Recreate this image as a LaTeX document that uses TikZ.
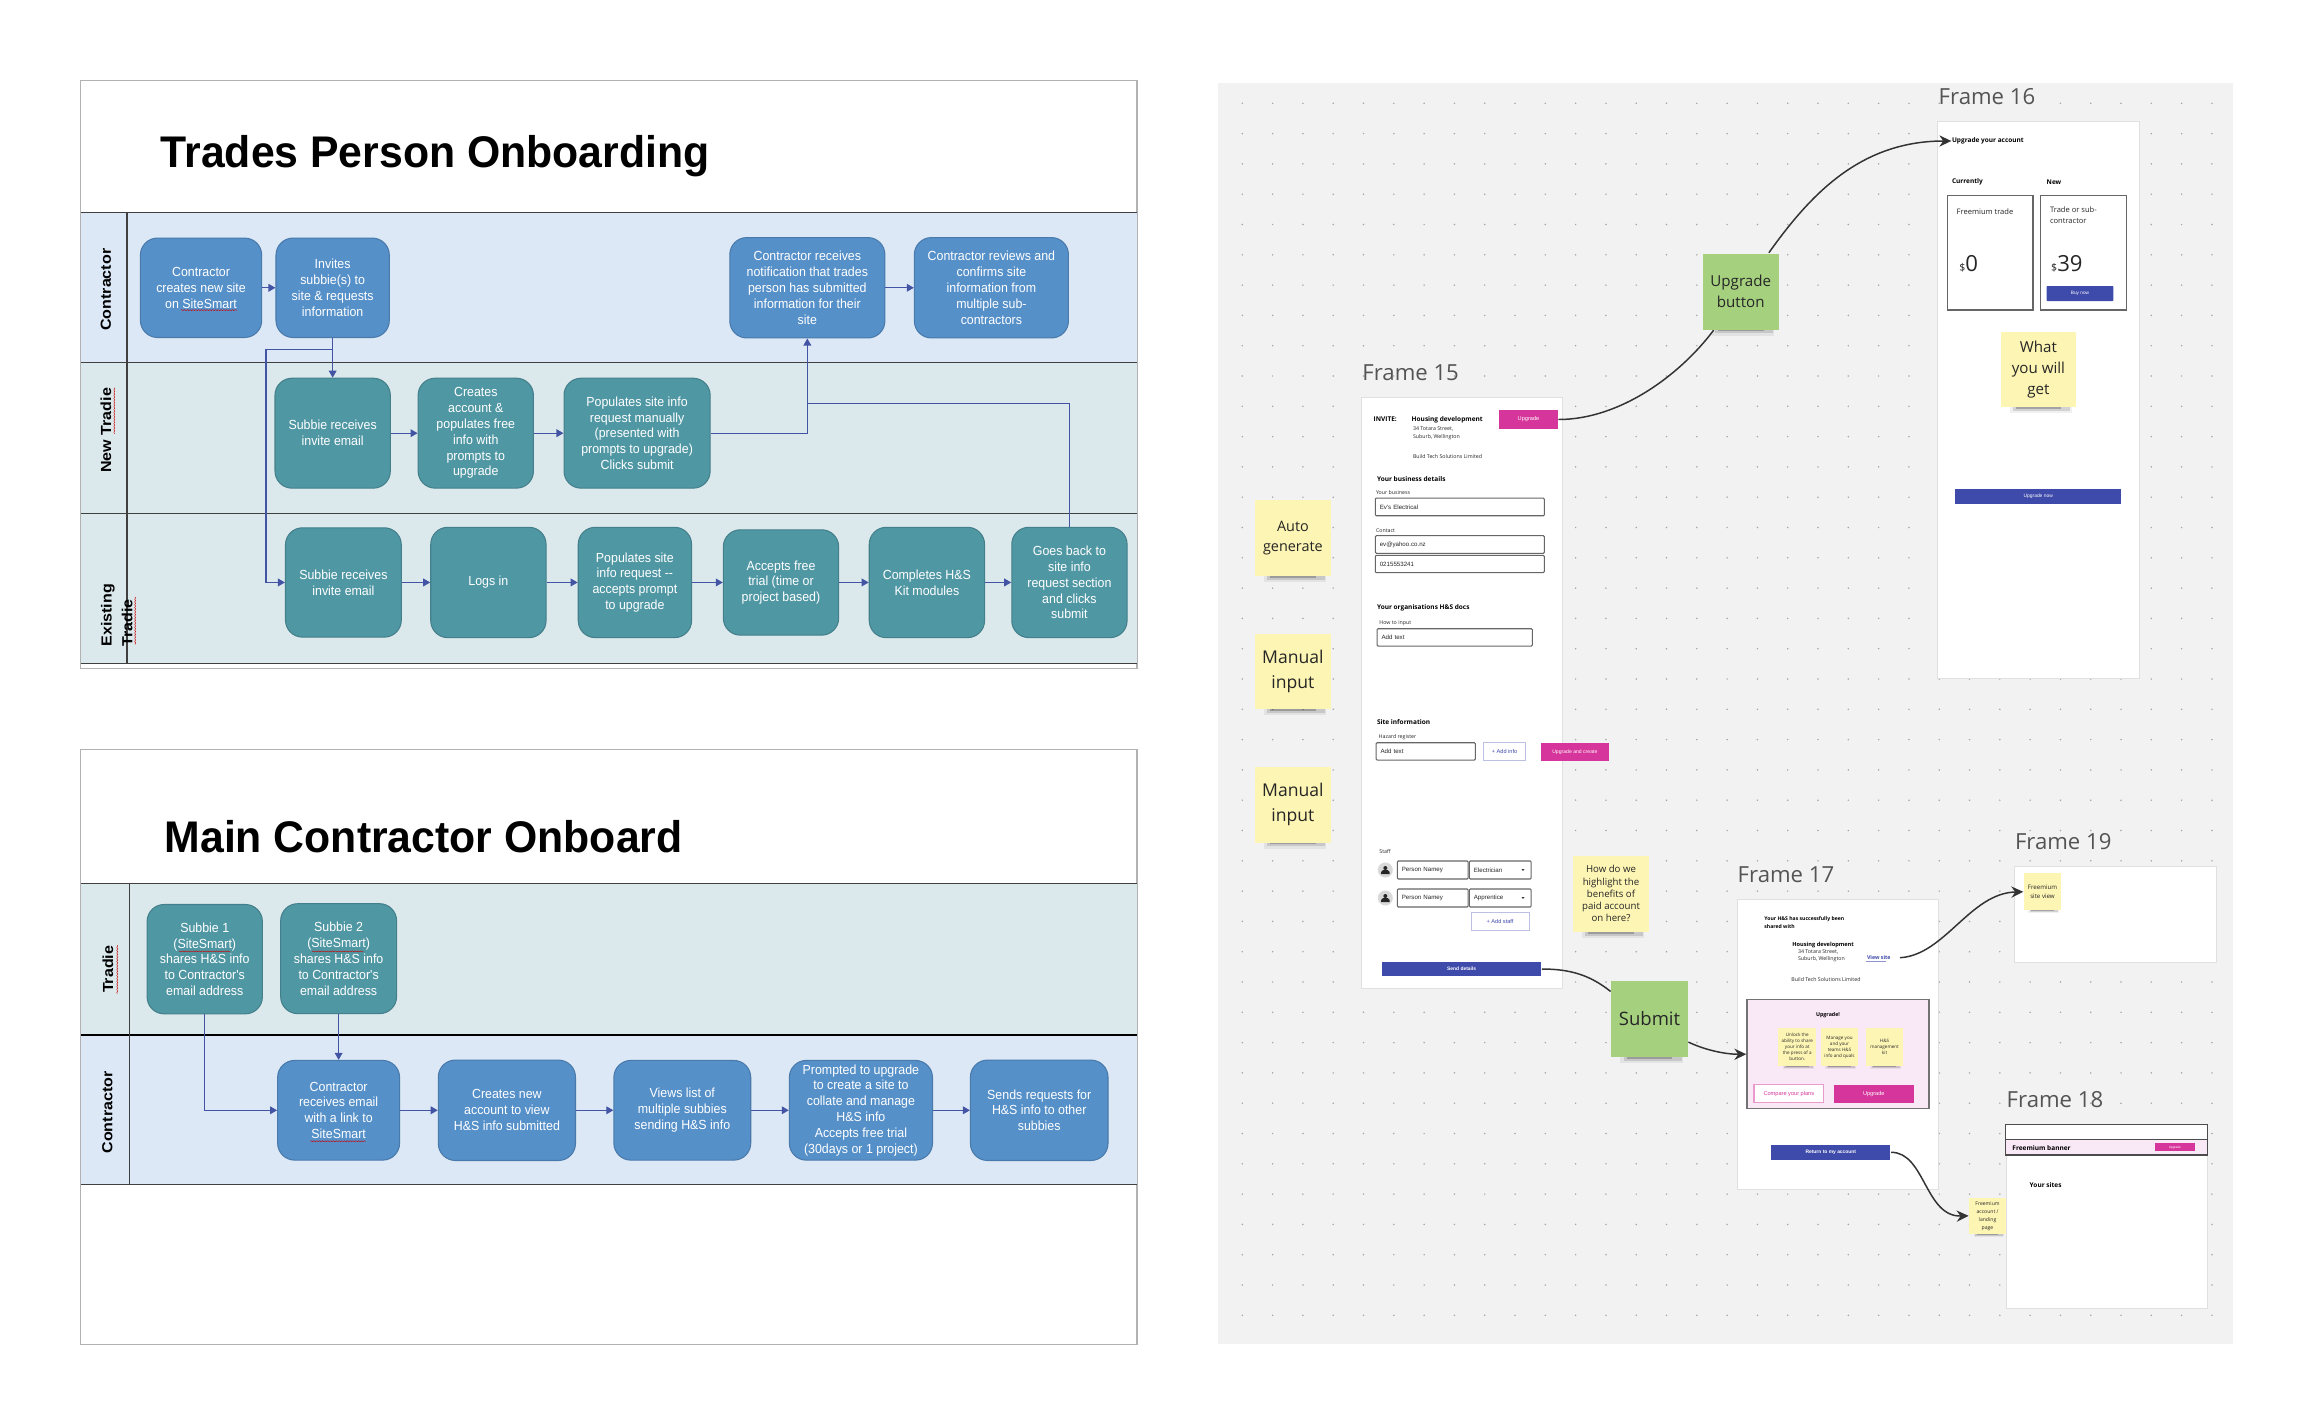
\documentclass[tikz,border=0pt]{standalone}
\usepackage{fontspec}
\setmainfont{Open Sans}
\newfontfamily\chartfont[FakeStretch=0.94]{Liberation Sans}
\newfontfamily\titlefont[FakeStretch=0.965]{Liberation Sans}
\newfontfamily\lanefont[FakeStretch=1.1]{Liberation Sans}
\newfontfamily\uifont{Liberation Sans}
\usepackage{xcolor}
\usepackage{tikz}
\usetikzlibrary{arrows.meta,decorations.pathmorphing}
\newcommand{\Px}{0.01cm}
\newcommand{\NoteShadow}[3]{%
  \fill[black, opacity=.06] (#1-.38*#3,#2+.45*#3) rectangle (#1+.44*#3,#2+.58*#3);
  \fill[black, opacity=.12] (#1-.34*#3,#2+.45*#3) rectangle (#1+.42*#3,#2+.55*#3);
  \fill[black, opacity=.22] (#1-.30*#3,#2+.45*#3) rectangle (#1+.30*#3,#2+.525*#3);
}
\definecolor{laneblue}{HTML}{DCE8F5}
\definecolor{laneteal}{HTML}{DBE9EC}
\definecolor{boxblue}{HTML}{5690C9}
\definecolor{boxteal}{HTML}{5097A4}
\definecolor{flowblue}{HTML}{4354A5}
\definecolor{panelgray}{HTML}{F2F2F2}
\definecolor{noteyellow}{HTML}{FDF5B4}
\definecolor{notegreen}{HTML}{A5D17F}
\definecolor{btnpink}{HTML}{D6359B}
\definecolor{btnblue}{HTML}{3F4BAB}
\definecolor{softpink}{HTML}{F9E8F5}
\tikzset{
  stepbox/.style={rounded corners=0.17cm, inner sep=0, text=white, align=center,
    font=\chartfont\fontsize{3.75}{4.5}\selectfont},
  bluebox/.style={stepbox, fill=boxblue, draw=boxblue!85!black, line width=.3pt},
  tealbox/.style={stepbox, fill=boxteal, draw=boxteal!85!black, line width=.3pt},
  flow/.style={draw=flowblue, line width=.32pt, -{Triangle[length=2pt,width=2.2pt]}},
  flowline/.style={draw=flowblue, line width=.32pt},
  lanelabel/.style={rotate=90, inner sep=0, align=left,
    font=\lanefont\bfseries\fontsize{4.15}{5.9}\selectfont},
  charttitle/.style={anchor=base west, inner sep=0,
    font=\titlefont\bfseries\fontsize{12.6}{14}\selectfont},
  squiggle/.style={draw=red!80!black, line width=.12pt, decorate,
    decoration={snake,amplitude=.15pt,segment length=.8pt}},
  frametitle/.style={anchor=base west, inner sep=0, text=black!67,
    font=\fontsize{6.3}{7}\selectfont},
  boardframe/.style={draw=black!12, fill=white, line width=.3pt},
  note/.style={inner sep=0, align=center, text=black!85},
  txt/.style={anchor=west, inner sep=0, text=black!85, font=\fontsize{1.5}{2.1}\selectfont},
  txtbold/.style={txt, text=black, font=\bfseries\fontsize{1.85}{2.4}\selectfont},
  inputbox/.style={draw=black!60, fill=white, line width=.3pt, rounded corners=.3pt, inner ysep=0,
    inner xsep=4.5*\Px, align=left, text=black!85, font=\uifont\fontsize{1.75}{2}\selectfont},
  btn/.style={inner sep=0, text=white, font=\uifont\fontsize{1.6}{2}\selectfont},
  btnline/.style={btn, fill=white, draw=btnblue!35, line width=.3pt, text=btnblue},
  link/.style={draw=black!80, line width=.42pt},
  linkarrow/.style={link, -{Stealth[length=3.4pt,width=3.2pt]}},
}
\begin{document}
\begin{tikzpicture}[x=\Px,y=-\Px]
\useasboundingbox (0,0) rectangle (2313,1424);
\fill[white] (0,0) rectangle (2313,1424);

\begin{scope}[x=0.009939cm,y=-0.009932cm,shift={(0,0.54)}]
% first chart: lanes
\draw[black!30, line width=.3pt] (81,80) rectangle (1144,672);
\fill[laneblue] (81,213) rectangle (1144,364.5);
\fill[laneteal] (81,364.5) rectangle (1144,667);
\foreach \y in {213,364.5,516,667}
\draw[black!75, line width=.3pt] (81,\y) -- (1144,\y);
\draw[black!75, line width=.3pt] (127.8,213) -- (127.8,667);
\node[charttitle] (titleTrades) at (161,168) {Trades Person Onboarding};
\node[lanelabel] (laneContractorA) at (106.6,291) {Contractor};
\node[lanelabel] (laneNew) at (106.6,432.4) {New Tradie};
\node[lanelabel] (laneExisting) at (117.5,618.5) {Existing\\Tradie};

% first chart: boxes
\foreach \name/\x/\y/\w/\h/\descr in {
  c1/202.3/289/122/100/{Contractor\\creates new site\\on SiteSmart},
  c2/334.7/289/114/100/{Invites\\subbie(s) to\\site \& requests\\information},
  c3/812.3/289/156/101/{Contractor receives\\notification that trades\\person has submitted\\information for their\\site},
  c4/997.5/289/155/101/{Contractor reviews and\\confirms site\\information from\\multiple sub-\\contractors}}
\node[bluebox, minimum width=.994*\w*\Px, minimum height=.994*\h*\Px] (\name) at (\x,\y) {\descr};
\foreach \name/\x/\y/\w/\h/\descr in {
  n1/334.7/435.3/116/110.6/{Subbie receives\\invite email},
  n2/478.7/435.3/116/110.6/{Creates\\account \&\\populates free\\info with\\prompts to\\upgrade},
  n3/641/435.3/147/110.6/{Populates site info\\request manually\\(presented with\\prompts to upgrade)\\Clicks submit},
  e1/345.5/585.5/116.5/110/{Subbie receives\\invite email},
  e2/491.4/585.5/116/111/{Logs in},
  e3/638.8/585.5/114/111/{Populates site\\info request --\\accepts prompt\\to upgrade},
  e4/785.8/585.5/116/106/{Accepts free\\trial (time or\\project based)},
  e5/932.6/585.5/116/111/{Completes H\&S\\Kit modules},
  e6/1076/585.5/116/111/{Goes back to\\site info\\request section\\and clicks\\submit}}
\node[tealbox, minimum width=.994*\w*\Px, minimum height=.994*\h*\Px] (\name) at (\x,\y) {\descr};

% first chart: connectors
\coordinate (branch) at (267.6,350.7);
\coordinate (join) at (812.3,405.7);
\foreach \a/\b in {c1/c2,c3/c4,n1/n2,n2/n3,e1/e2,e2/e3,e3/e4,e4/e5,e5/e6}
\draw[flow] (\a.east) -- (\b.west);
\draw[flow] (c2.south) -- (n1.north);
\draw[flowline] (c2.south) |- (branch);
\draw[flow] (branch) |- (e1.west);
\draw[flow] (n3.east) -| (c3.south);
\draw[flowline] (e6.north) |- (join);

% spelling marks
\foreach \xa/\ya/\xb/\yb in {182/311.5/238.6/311.5, 115/389.6/115/436, 136/600/136/648}
\draw[squiggle] (\xa,\ya) -- (\xb,\yb);
\end{scope}

\begin{scope}[x=0.009939cm,y=-0.00995cm,shift={(0,3.75)}]
% second chart: lanes
\draw[black!30, line width=.3pt] (81,749.5) rectangle (1144,1347);
\fill[laneteal] (81,884) rectangle (1144,1035.7);
\fill[laneblue] (81,1035.7) rectangle (1144,1186.5);
\draw[black!75, line width=.3pt] (81,884) -- (1144,884);
\draw[black, line width=.5pt] (81,1035.7) -- (1144,1035.7);
\draw[black!75, line width=.3pt] (81,1186.5) -- (1144,1186.5);
\draw[black!75, line width=.3pt] (130,884) -- (130,1186.5);
\node[charttitle] (titleMain) at (165,852.6) {Main Contractor Onboard};
\node[lanelabel] (laneTradie) at (108.5,970) {Tradie};
\node[lanelabel] (laneContractorB) at (108,1113.7) {Contractor};

% second chart: boxes
\foreach \name/\x/\y/\w/\h/\descr in {
  t1/206/959.8/116/110/{Subbie 1\\(SiteSmart)\\shares H\&S info\\to Contractor's\\email address},
  t2/340.7/959.3/116.6/110.6/{Subbie 2\\(SiteSmart)\\shares H\&S info\\to Contractor's\\email address}}
\node[tealbox, minimum width=.994*\w*\Px, minimum height=.994*\h*\Px] (\name) at (\x,\y) {\descr};
\foreach \name/\x/\y/\w/\h/\descr in {
  b1/340.7/1111.6/122.7/100.3/{Contractor\\receives email\\with a link to\\SiteSmart},
  b2/510/1111.6/138/101/{Creates new\\account to view\\H\&S info submitted},
  b3/686.5/1111.6/137.7/100.3/{Views list of\\multiple subbies\\sending H\&S info},
  b4/866.2/1111.6/144/100.3/{Prompted to upgrade\\to create a site to\\collate and manage\\H\&S info\\Accepts free trial\\(30days or 1 project)},
  b5/1045.6/1111.6/138.4/101/{Sends requests for\\H\&S info to other\\subbies}}
\node[bluebox, minimum width=.994*\w*\Px, minimum height=.994*\h*\Px] (\name) at (\x,\y) {\descr};

% second chart: connectors
\foreach \a/\b in {b1/b2,b2/b3,b3/b4,b4/b5}
\draw[flow] (\a.east) -- (\b.west);
\draw[flow] (t1.south) |- (b1.west);
\draw[flow] (t2.south) -- (b1.north);

% spelling marks
\foreach \xa/\ya/\xb/\yb in {180/952/231.6/952, 314/952/365.7/952, 312/1142.7/368/1142.7, 118/945.7/118/994.7}
\draw[squiggle] (\xa,\ya) -- (\xb,\yb);
\end{scope}

% board background and dots
\fill[panelgray] (1218,82.7) rectangle (2233,1344);
\foreach \i in {0,...,32}
\foreach \j in {0,...,40}
\fill[black!35] (1242.3+\i*30.3,103.3+\j*30.3) circle (.85);

% frames
\foreach \name/\xa/\ya/\w/\h in {
  frameA/1360.7/397.3/201.6/591,
  frameB/1937/120.7/202/557,
  frameC/1736.7/898.7/201.6/290.6,
  frameD/2014/866/201.7/96.3,
  frameE/2005.7/1124/201.6/183.7}
\node[boardframe, anchor=north west, inner sep=0, minimum width=\w*\Px, minimum height=\h*\Px] (\name) at (\xa,\ya) {};
\foreach \name/\x/\y/\descr in {
  ttlFrameA/1361.7/380.7/{Frame 15},ttlFrameB/1938/104/{Frame 16},ttlFrameC/1737/882.7/{Frame 17},
  ttlFrameD/2014.3/849.3/{Frame 19},ttlFrameE/2006/1107.3/{Frame 18}}
\node[frametitle] (\name) at (\x,\y) {\descr};

% frame 15
\foreach \name/\x/\y/\descr in {
  ttlWho/1373/419.7/{INVITE:},ttlHousing/1411/419.7/{Housing development},
  ttlBusiness/1376.3/478.7/{Your business details},ttlDocs/1376.3/607.7/{Your organisations H\&S docs},
  ttlSite/1376.3/722/{Site information}}
\node[txtbold] (\name) at (\x,\y) {\descr};
\foreach \name/\x/\y/\descr in {
  adrA/1412.3/429.3/{34 Totara Street,},adrB/1412.3/436.7/{Suburb, Wellington},
  adrC/1412.3/456.7/{Build Tech Solutions Limited},lblBusiness/1375.3/492.7/{Your business},
  lblContact/1375.3/530.3/{Contact},lblInput/1378.7/623.3/{How to input},
  lblHazard/1378/737.3/{Hazard register},lblStaff/1378.7/851.7/{Staff}}
\node[txt] (\name) at (\x,\y) {\descr};
\foreach \name/\x/\y/\w/\h/\descr in {
  fldBusiness/1459.8/506.9/169/17.7/{Ev's Electrical},
  fldMail/1459.8/544.5/169/17.6/{ev@yahoo.co.nz},
  fldPhone/1459.8/564/169/17.4/{0215553241},
  fldDocs/1454.7/637.4/155.3/17.3/{Add text},
  fldHazard/1425.7/751.4/99.3/17.3/{Add text},
  fldNameA/1432.7/870/70.7/18/{Person Namey},
  fldRoleA/1500.2/870/61.7/18/{Electrician},
  fldNameB/1432.7/898/70.7/18/{Person Namey},
  fldRoleB/1500.2/898/61.7/18/{Apprentice}}
\node[inputbox, text width=(\w-9)*\Px, minimum height=\h*\Px] (\name) at (\x,\y) {\descr};
\foreach \y in {870,898}{
\fill[black!80] (1521.5,\y-1) -- (1524.5,\y-1) -- (1523,\y+1) -- cycle;
\node[circle, fill=black!15, inner sep=0, minimum size=15*\Px] (avatar\y) at (1385.3,\y) {};
\fill[black!85] (1385.3,\y-2) circle (2);
\fill[black!85] (1381,\y+4) -- (1381,\y+2) -- (1383,\y) -- (1387.6,\y) -- (1389.6,\y+2) -- (1389.6,\y+4) -- cycle;
}
\node[btn, fill=btnpink, minimum width=58.4*\Px, minimum height=18.4*\Px] (btnInvite) at (1528.5,419.5) {Upgrade};
\node[btn, fill=btnpink, minimum width=68.3*\Px, minimum height=17.7*\Px, font=\uifont\fontsize{1.45}{2}\selectfont] (btnCreate) at (1574.8,752.2) {Upgrade and create};
\node[btnline, minimum width=42.4*\Px, minimum height=17.3*\Px] (btnInfo) at (1504.5,751.4) {+ Add info};
\node[btnline, minimum width=58*\Px, minimum height=17.6*\Px] (btnStaff) at (1500,921.5) {+ Add staff};
\node[btn, fill=btnblue, minimum width=159.3*\Px, minimum height=14.6*\Px, font=\uifont\bfseries\fontsize{1.4}{2}\selectfont] (btnSend) at (1461.6,969) {Send details};

% frame 16
\node[txtbold] (ttlUpgrade) at (1951.3,141) {Upgrade your account};
\node[txtbold] (ttlCurrent) at (1951.3,182.3) {Currently};
\node[txtbold] (ttlNew) at (2046,182.3) {New};
\foreach \name/\x in {cardOld/1990.1,cardNew/2083.5}
\node[draw=black!60, line width=.4pt, fill=white, inner sep=0, minimum width=85.7*\Px, minimum height=114.3*\Px] (\name) at (\x,252.8) {};
\node[txt, font=\fontsize{2.15}{3.1}\selectfont] (planOld) at (1956,212) {Freemium trade};
\node[txt, font=\fontsize{2.15}{3.1}\selectfont, align=left] (planNew) at (2049.3,214.8) {Trade or sub-\\contractor};
\node[txt, font=\fontsize{6.3}{7}\selectfont] (priceOld) at (1958.7,263.5) {{\fontsize{3}{3}\selectfont\$}0};
\node[txt, font=\fontsize{6.3}{7}\selectfont] (priceNew) at (2050.5,263.5) {{\fontsize{3}{3}\selectfont\$}39};
\node[btn, fill=btnblue, rounded corners=.2pt, minimum width=66.6*\Px, minimum height=15*\Px, font=\uifont\fontsize{1.35}{2}\selectfont] (btnBuy) at (2080,293.5) {Buy now};
\node[btn, fill=btnblue, minimum width=166.3*\Px, minimum height=15*\Px, font=\uifont\fontsize{1.4}{2}\selectfont] (btnNow) at (2038.2,496.5) {Upgrade now};

% frame 17
\node[txtbold, align=left, font=\bfseries\fontsize{1.45}{2.1}\selectfont] (ttlShared) at (1763.7,922.7) {Your H\&S has successfully been\\shared with};
\node[txtbold, font=\bfseries\fontsize{1.6}{2}\selectfont] (ttlHousingB) at (1791.7,945) {Housing development};
\node[txt] (adrD) at (1797.3,951.7) {34 Totara Street,};
\node[txt] (adrE) at (1797.3,959.3) {Suburb, Wellington};
\node[txt] (adrF) at (1790.7,980) {Build Tech Solutions Limited};
\node[txt, text=btnblue, font=\bfseries\fontsize{1.5}{2}\selectfont] (txtView) at (1866.3,957.7) {View site};
\draw[btnblue!60, line width=.15pt] (1866.3,961.7) -- (1886.3,961.7);
\node[draw=black!55, fill=softpink, line width=.4pt, inner sep=0, minimum width=182*\Px, minimum height=109*\Px] (boxPink) at (1838,1054.2) {};
\node[txtbold, anchor=center, font=\bfseries\fontsize{1.5}{2}\selectfont] (ttlPink) at (1828,1014.7) {Upgrade!};
\node[btn, fill=white, draw=btnpink!50, line width=.3pt, text=btnpink, minimum width=69.7*\Px, minimum height=18*\Px] (btnCompare) at (1788.8,1093.7) {Compare your plans};
\node[btn, fill=btnpink, minimum width=80.3*\Px, minimum height=18*\Px] (btnPink) at (1873.8,1093.7) {Upgrade};
\node[btn, fill=btnblue, minimum width=119*\Px, minimum height=14.7*\Px, font=\uifont\bfseries\fontsize{1.4}{2}\selectfont] (btnReturn) at (1830.8,1152.3) {Return to my account};
\coordinate (viewStart) at (1900,957.7);

% frame 18
\node[draw=black!70, fill=white, line width=.4pt, inner sep=0, minimum width=201.6*\Px, minimum height=15*\Px] (bandTop) at (2106.5,1131.8) {};
\node[draw=black!70, fill=softpink, line width=.4pt, inner sep=0, minimum width=201.6*\Px, minimum height=15.7*\Px] (bandPink) at (2106.5,1147.2) {};
\node[txtbold] (ttlBanner) at (2011.7,1148.3) {Freemium banner};
\node[btn, fill=btnpink, minimum width=40.3*\Px, minimum height=8.3*\Px, font=\uifont\fontsize{.9}{1}\selectfont] (btnBanner) at (2174.8,1147.2) {Upgrade};
\node[txtbold] (ttlSites) at (2029,1185) {Your sites};

% sticky notes
\foreach \name/\x/\y/\w/\fs/\ls/\descr in {
  noteAuto/1292.9/538/75.7/4.1/5.7/{Auto\\generate},
  noteManualA/1292.9/671.5/75.7/5/7.1/{Manual\\input},
  noteManualB/1292.9/804.7/75.7/5/7.1/{Manual\\input},
  noteBenefit/1611/893.7/76/2.75/3.47/{How do we\\highlight the\\benefits of\\paid account\\on here?},
  noteGet/2038.4/369.5/75.4/4.3/6/{What\\you will\\get},
  noteOne/1797.2/1047/37.6/1.3/1.7/{Unlock the\\ability to share\\your info at\\the press of a\\button.},
  noteTwo/1839.5/1047/37.6/1.3/1.7/{Manage you\\and your\\teams H\&S\\info and quals},
  noteThree/1884.5/1047/37.6/1.3/1.7/{H\&S\\management\\kit},
  noteSite/2042.5/891.8/37/1.75/2.56/{Freemium\\site view},
  noteAccount/1987.5/1215.8/36.4/1.45/2.28/{Freemium\\account /\\landing\\page}}{
\NoteShadow{\x}{\y}{\w}
\node[note, fill=noteyellow, font=\fontsize{\fs}{\ls}\selectfont, minimum size=\w*\Px] (\name) at (\x,\y) {\descr};
}
\NoteShadow{1740.7}{291.5}{76}
\node[note, fill=notegreen, font=\fontsize{4.3}{6}\selectfont, minimum size=76*\Px] (noteUpgrade) at (1740.7,291.5) {Upgrade\\button};
\NoteShadow{1649.5}{1018.7}{76.4}
\node[note, fill=notegreen, font=\fontsize{5.26}{7}\selectfont, minimum size=76.4*\Px] (noteSubmit) at (1649.5,1018.7) {Submit};

% curved links
\draw[link] (btnInvite.east) .. controls (1620,419.5) and (1680,375) .. (noteUpgrade.235);
\draw[linkarrow] (noteUpgrade.54) .. controls (1810,195) and (1860,141) .. (ttlUpgrade.west);
\draw[link] (btnSend.east) .. controls (1570,969) and (1590,975) .. (noteSubmit.145);
\draw[linkarrow] (noteSubmit.329) .. controls (1705,1050) and (1725,1054.3) .. (boxPink.west);
\draw[linkarrow] (viewStart) .. controls (1945,955) and (1970,893) .. (noteSite.west);
\draw[linkarrow] (btnReturn.east) .. controls (1925,1152) and (1925,1217) .. (noteAccount.west);
\end{tikzpicture}
\end{document}
